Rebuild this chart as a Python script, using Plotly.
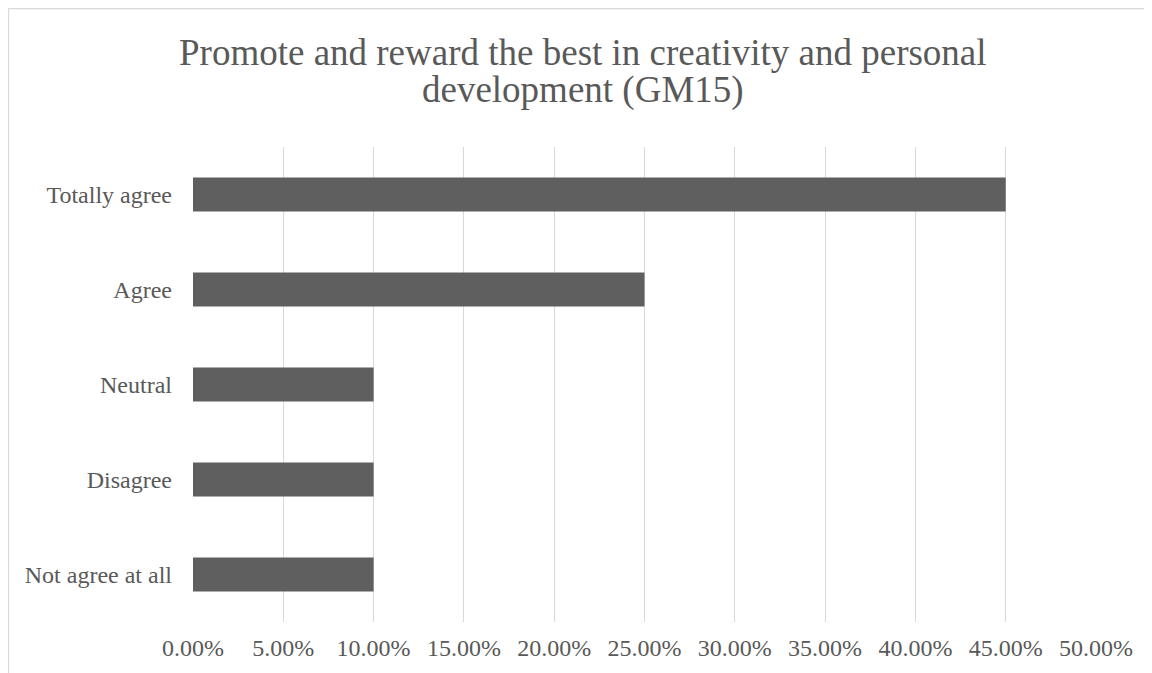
import plotly.graph_objects as go

categories = ["Not agree at all", "Disagree", "Neutral", "Agree", "Totally agree"]
values = [0.10, 0.10, 0.10, 0.25, 0.45]
tick_vals = [0, 0.05, 0.10, 0.15, 0.20, 0.25, 0.30, 0.35, 0.40, 0.45, 0.50]
tick_text = ["0.00%", "5.00%", "10.00%", "15.00%", "20.00%", "25.00%",
             "30.00%", "35.00%", "40.00%", "45.00%", "50.00%"]
title_lines = ["Promote and reward the best in creativity and personal",
               "development (GM15)"]

W, H = 1152, 673
L, R, T, B = 185, 64, 139, 59
pw, ph = W - L - R, H - T - B

fig = go.Figure(go.Bar(
    x=values, y=categories, orientation="h",
    marker=dict(color="#5f5f5f", line=dict(width=0)),
))

font_family = "Liberation Serif, Times New Roman, serif"


def px_to_paper_x(px):
    return (px - L) / pw


def px_to_paper_y(py):
    return (H - B - py) / ph


title_y_centers = [44, 82]
annotations = [
    dict(text=t, xref="paper", yref="paper",
         x=px_to_paper_x(575), y=px_to_paper_y(yc),
         xanchor="center", yanchor="middle", showarrow=False,
         font=dict(family=font_family, size=37, color="#595959"))
    for t, yc in zip(title_lines, title_y_centers)
]

fig.update_layout(
    width=W, height=H,
    margin=dict(l=L, r=R, t=T, b=B, pad=0),
    paper_bgcolor="white", plot_bgcolor="white",
    bargap=0.64,
    showlegend=False,
    font=dict(family=font_family, color="#595959"),
    annotations=annotations,
    xaxis=dict(range=[0, 0.5], tickvals=tick_vals, ticktext=tick_text,
               showgrid=True, gridcolor="#d9d9d9", gridwidth=1.3,
               zeroline=False, showline=False,
               tickfont=dict(size=24, color="#595959"),
               ticklabelstandoff=9),
    yaxis=dict(showgrid=False, zeroline=False, showline=False,
               tickfont=dict(size=24, color="#595959"),
               ticklabelstandoff=20),
    shapes=[
        dict(type="line", xref="paper", yref="paper",
             x0=px_to_paper_x(0.5), x1=px_to_paper_x(0.5),
             y0=px_to_paper_y(0), y1=px_to_paper_y(H + 10),
             line=dict(color="#d9d9d9", width=1.3)),
        dict(type="line", xref="paper", yref="paper",
             x0=px_to_paper_x(0), x1=px_to_paper_x(W + 10),
             y0=px_to_paper_y(0.5), y1=px_to_paper_y(0.5),
             line=dict(color="#d9d9d9", width=1.3)),
    ],
)

fig.write_html("out.html")
